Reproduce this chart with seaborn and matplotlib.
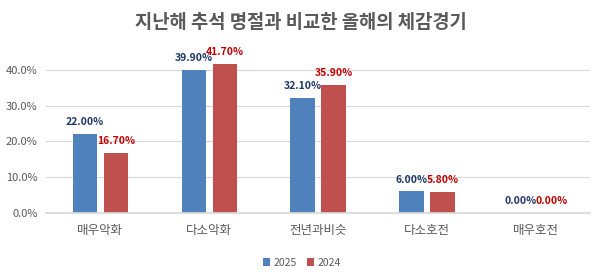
import matplotlib
matplotlib.use("Agg")
import matplotlib.pyplot as plt
import seaborn as sns
import pandas as pd
from matplotlib.ticker import PercentFormatter

categories = ["매우악화", "다소악화", "전년과비슷", "다소호전", "매우호전"]
series_names = ["2025", "2024"]
values_2025 = [0.220, 0.399, 0.321, 0.060, 0.000]
values_2024 = [0.167, 0.417, 0.359, 0.058, 0.000]
title = "지난해 추석 명절과 비교한 올해의 체감경기"

df = pd.DataFrame({
    "cat": categories * 2,
    "year": [series_names[0]] * 5 + [series_names[1]] * 5,
    "val": values_2025 + values_2024,
})

sns.set_theme(style="white")
plt.rcParams["font.family"] = ["Noto Sans CJK KR", "DejaVu Sans"]

fig = plt.figure(figsize=(6.02, 2.78), dpi=100)
ax = fig.add_axes([0.0764, 0.234, 0.904, 0.579])

bar_colors = ["#4F81BD", "#C0504D"]
label_colors = ["#1F3864", "#C00000"]
sns.barplot(data=df, x="cat", y="val", hue="year", hue_order=series_names,
            order=categories, palette=bar_colors, width=0.568, gap=0.21,
            saturation=1, linewidth=0, ax=ax, legend=True)

for cont, lc in zip(ax.containers, label_colors):
    ax.bar_label(cont, labels=[f"{v*100:.2f}%" for v in cont.datavalues],
                 padding=5, color=lc, fontsize=7.5, fontweight="bold")

ax.set_ylim(0, 0.45)
ax.set_yticks([0, 0.1, 0.2, 0.3, 0.4])
ax.yaxis.set_major_formatter(PercentFormatter(1.0, decimals=1))
ax.grid(axis="y", color="#D9D9D9", linewidth=0.8)
ax.set_axisbelow(True)
for s in ["top", "right", "left"]:
    ax.spines[s].set_visible(False)
ax.spines["bottom"].set_color("#D9D9D9")
ax.set_xlabel("")
ax.set_ylabel("")
ax.tick_params(axis="x", labelsize=9, colors="#595959", length=0, pad=8)
ax.tick_params(axis="y", labelsize=8, colors="#595959", length=0, pad=6)

leg = ax.legend(loc="upper center", bbox_to_anchor=(0.47, -0.22), ncol=2,
                frameon=False, fontsize=7.5, handlelength=0.7, handleheight=0.7,
                handletextpad=0.3, columnspacing=1.0)
for t in leg.get_texts():
    t.set_color("#595959")

fig.suptitle(title, x=0.5, y=0.955, fontsize=13.5, fontweight="bold", color="#595959")

fig.savefig("out.png", dpi=100)
